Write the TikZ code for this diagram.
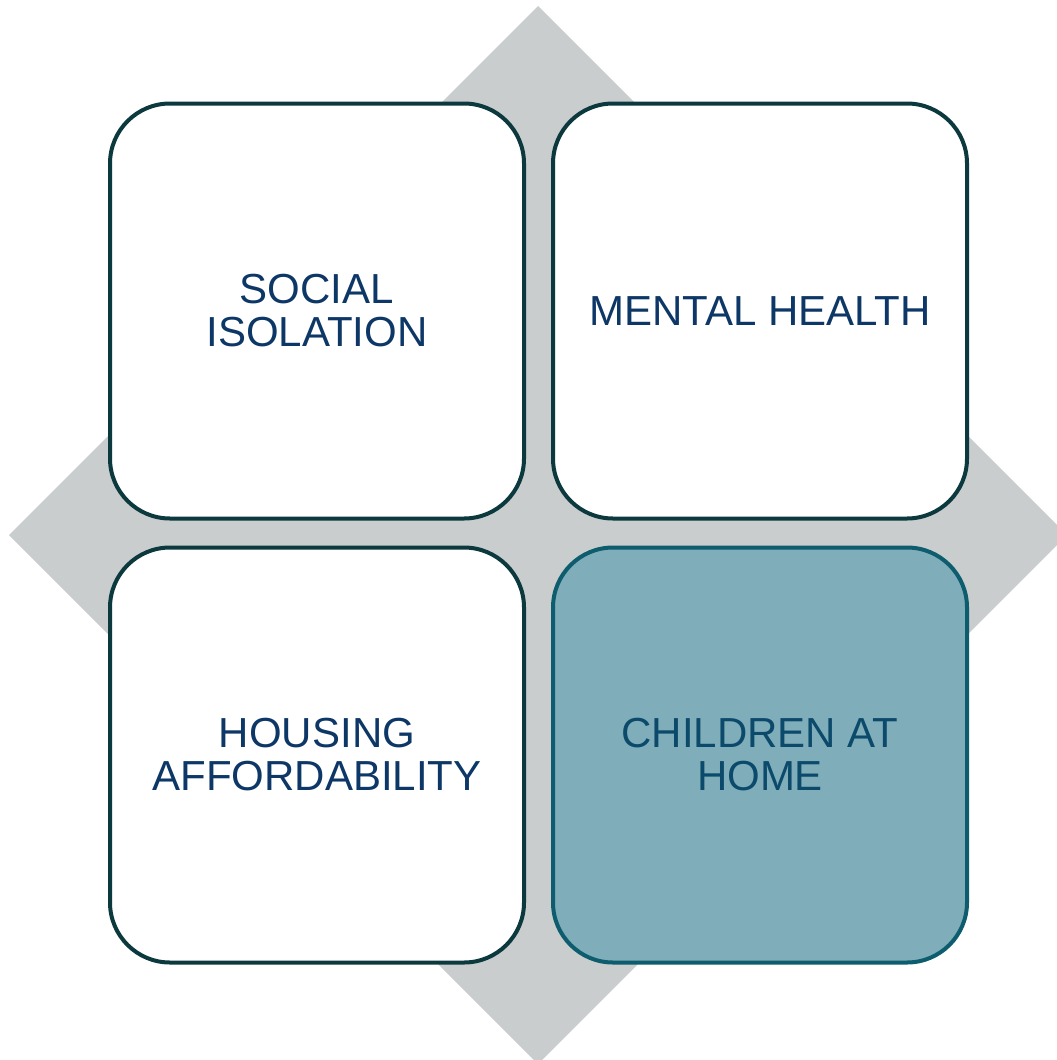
\documentclass[tikz,border=0pt]{standalone}
\usepackage{fontspec}
\setmainfont{Liberation Sans}
\usepackage{tikz}
\usetikzlibrary{positioning}
\definecolor{diamondGrey}{HTML}{C9CDCE}
\definecolor{edgeTeal}{HTML}{0B393D}
\definecolor{hiFill}{HTML}{7FADB9}
\definecolor{hiEdge}{HTML}{0D5D6E}
\definecolor{labelBlue}{HTML}{0D3766}
\definecolor{hiText}{HTML}{0B4A6A}

\begin{document}
\begin{tikzpicture}[x=1pt, y=-1pt,
  tile/.style={draw=edgeTeal, line width=4pt, fill=white, rounded corners=60pt,
    minimum width=414pt, minimum height=415pt, inner sep=0pt, align=center,
    text=labelBlue, font=\fontsize{42}{43}\selectfont},
  hitile/.style={tile, fill=hiFill, draw=hiEdge, text=hiText}]
  \useasboundingbox (0,0) rectangle (1057,1060);
  % grey diamond behind the tiles
  \fill[diamondGrey] (538,6) -- (1067,535) -- (538,1064) -- (9,535) -- cycle;

  \node[tile] (social) at (317,311) {SOCIAL\\ISOLATION};
  \node[tile, right=25pt of social] (mental) {MENTAL HEALTH};
  \node[tile, below=25pt of social] (housing) {HOUSING\\AFFORDABILITY};
  \node[hitile, below=25pt of mental] (children) {CHILDREN AT\\HOME};
\end{tikzpicture}
\end{document}
